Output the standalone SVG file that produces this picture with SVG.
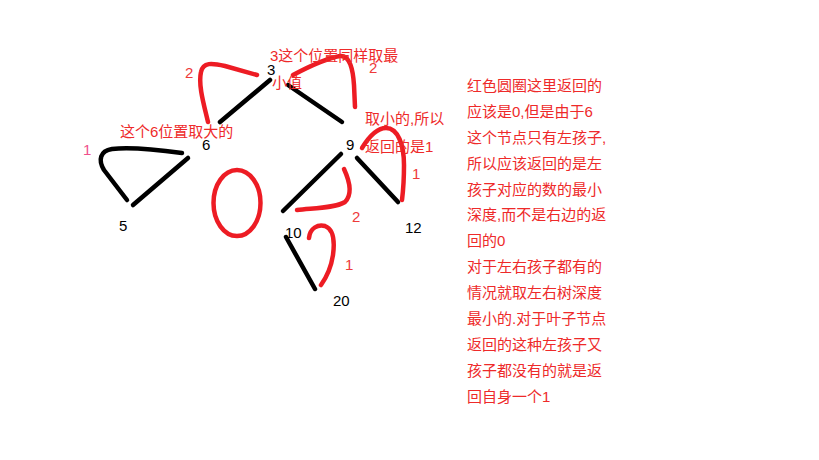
<svg xmlns="http://www.w3.org/2000/svg" width="819" height="460" viewBox="0 0 819 460">
<style>
.bg{fill:#ffffff}
.num{font-family:"Liberation Sans","Noto Sans CJK SC",sans-serif;font-size:15px;fill:#000000}
.ann{font-family:"Liberation Sans","Noto Sans CJK SC",sans-serif;font-size:15px;fill:#EE2A2A}
.rnum{font-family:"Liberation Sans",sans-serif;font-size:15px;fill:#EE3A3A}
.blk{fill:none;stroke:#000000;stroke-width:4.5;stroke-linecap:round;stroke-linejoin:round}
.red{fill:none;stroke:#ED1C24;stroke-width:4.5;stroke-linecap:round;stroke-linejoin:round}
</style>
<rect class="bg" x="0" y="0" width="819" height="460"/>
<g id="connectors">
<line class="blk" x1="220" y1="122" x2="270" y2="80"/>
<line class="blk" x1="288" y1="85" x2="342" y2="122"/>
<line class="blk" x1="188" y1="158" x2="133" y2="205"/>
<path class="blk" d="M182,153 C160,150 130,147 112,149 C100,151 98,160 104,170 L127,200"/>
<line class="blk" x1="341" y1="154" x2="283" y2="211"/>
<line class="blk" x1="357" y1="158" x2="398" y2="202"/>
<line class="blk" x1="286" y1="237" x2="315" y2="289"/>
</g>
<g id="red-marks">
<path class="red" d="M208,122 C204,105 198,85 201,72 C203,62 212,63 225,66 L257,75"/>
<path class="red" d="M293,75 C310,66 328,58 340,56 C350,55 353,70 354,85 L355,107"/>
<path class="red" d="M362,148 C370,135 378,128 386,128 C398,128 404,145 404,165 C404,180 403,192 402,200"/>
<path class="red" d="M344,169 C350,182 352,195 345,202 C335,208 315,208 297,210"/>
<path class="red" d="M309,238 C310,228 318,224 325,226 C333,229 335,240 333,255 C331,268 326,278 321,285"/>
<ellipse class="red" cx="237" cy="203" rx="23.5" ry="33"/>
</g>
<g id="node-3"><text class="num" x="267" y="75">3</text></g>
<g id="node-6"><text class="num" x="202" y="150">6</text></g>
<g id="node-9"><text class="num" x="346" y="150">9</text></g>
<g id="node-5"><text class="num" x="119" y="231">5</text></g>
<g id="node-10"><text class="num" x="285" y="238">10</text></g>
<g id="node-12"><text class="num" x="405" y="233">12</text></g>
<g id="node-20"><text class="num" x="333" y="306">20</text></g>
<g id="labels">
<text class="rnum" x="185" y="78">2</text>
<text class="rnum" x="83" y="155" style="fill:#F0508C">1</text>
<text class="rnum" x="369" y="73">2</text>
<text class="rnum" x="412" y="179">1</text>
<text class="rnum" x="352" y="222">2</text>
<text class="rnum" x="345" y="270">1</text>
<text class="ann" x="270" y="61">3这个位置同样取最</text>
<text class="ann" x="272" y="88">小值</text>
<text class="ann" x="120" y="137">这个6位置取大的</text>
<text class="ann" x="365" y="124">取小的,所以</text>
<text class="ann" x="365" y="152">返回的是1</text>
</g>
<g id="note" class="ann">
<text x="467" y="91">红色圆圈这里返回的</text>
<text x="467" y="117">应该是0,但是由于6</text>
<text x="467" y="143">这个节点只有左孩子,</text>
<text x="467" y="169">所以应该返回的是左</text>
<text x="467" y="195">孩子对应的数的最小</text>
<text x="467" y="220">深度,而不是右边的返</text>
<text x="467" y="246">回的0</text>
<text x="467" y="272">对于左右孩子都有的</text>
<text x="467" y="298">情况就取左右树深度</text>
<text x="467" y="324">最小的.对于叶子节点</text>
<text x="467" y="350">返回的这种左孩子又</text>
<text x="467" y="376">孩子都没有的就是返</text>
<text x="467" y="402">回自身一个1</text>
</g>
</svg>
